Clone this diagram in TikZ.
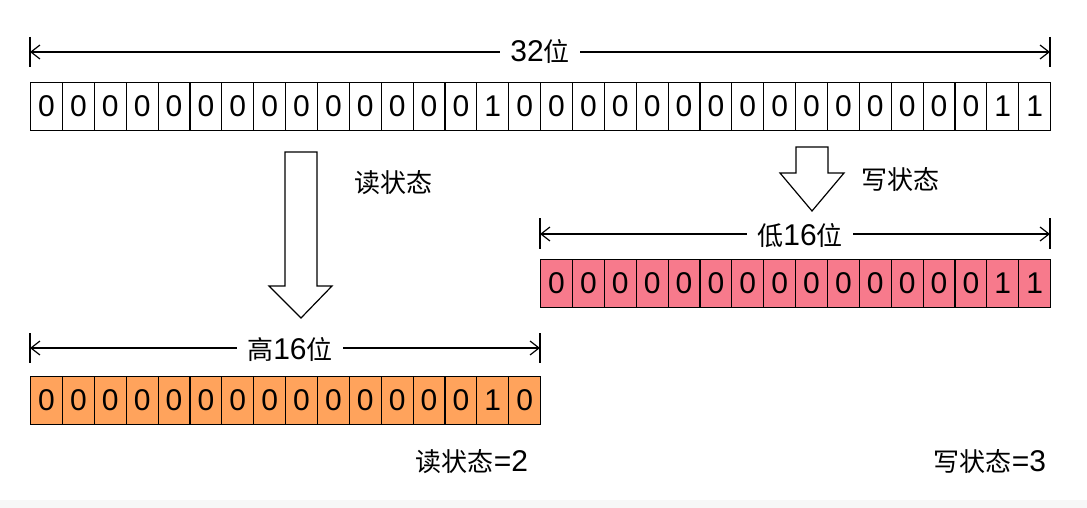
\documentclass[tikz,border=0pt]{standalone}
\usepackage{fontspec}
\setmainfont{Liberation Sans}
\newfontfamily\cjk{Noto Sans CJK SC}
\usetikzlibrary{arrows.meta}
\definecolor{redfill}{HTML}{F77A8C}
\definecolor{orangefill}{HTML}{FFA35C}
\begin{document}
\begin{tikzpicture}[x=1pt,y=-1pt,
  cell/.style={draw, line width=1.2pt, minimum width=31.875pt, minimum height=48pt,
    inner sep=0pt, anchor=north west, font=\fontsize{30}{36}\selectfont},
  tick/.style={line width=1.3pt},
  dimline/.style={line width=1.2pt, {Straight Barb[length=9pt,width=14pt]}-{Straight Barb[length=9pt,width=14pt]}},
  lbl/.style={fill=white, inner xsep=10pt, inner ysep=2pt, font=\fontsize{30}{36}\selectfont},
  txt/.style={inner sep=0pt, font=\fontsize{30}{36}\selectfont},
  blockarrow/.style={draw, line width=1.2pt, fill=white, line join=miter}]
\useasboundingbox (0,0) rectangle (1087,508);
\fill[black!3] (0,500) rectangle (1087,508);

% top dimension
\draw[tick] (30,37) -- (30,67);
\draw[tick] (1050,37) -- (1050,67);
\coordinate (tl) at (30,52);
\coordinate (tr) at (1050,52);
\draw[dimline] (tl) -- (tr);
\node[lbl] (l32) at (540,52) {32{\cjk\fontsize{26}{30}\selectfont 位}};

% top row
\foreach \d [count=\i from 0] in {0,0,0,0,0,0,0,0,0,0,0,0,0,0,1,0,0,0,0,0,0,0,0,0,0,0,0,0,0,0,1,1}
  \node[cell] (t\i) at ({30+\i*31.875},82) {\d};

% read arrow
\draw[blockarrow] (285,152) -- (317,152) -- (317,286) -- (332,286) -- (301,318) -- (269,286) -- (285,286) -- cycle;
\node[txt] (readlbl) at (393,183) {\cjk\fontsize{26}{30}\selectfont 读状态};

% write arrow
\draw[blockarrow] (796,147) -- (828,147) -- (828,173) -- (844,173) -- (812,211) -- (780,173) -- (796,173) -- cycle;
\node[txt] (writelbl) at (900,180) {\cjk\fontsize{26}{30}\selectfont 写状态};

% low 16 dimension
\draw[tick] (540,218) -- (540,249);
\draw[tick] (1050,218) -- (1050,249);
\coordinate (ll) at (540,234);
\coordinate (lr) at (1050,234);
\draw[dimline] (ll) -- (lr);
\node[lbl] (l16) at (800,236) {{\cjk\fontsize{26}{30}\selectfont 低}16{\cjk\fontsize{26}{30}\selectfont 位}};

% red row
\foreach \d [count=\i from 0] in {0,0,0,0,0,0,0,0,0,0,0,0,0,0,1,1}
  \node[cell, fill=redfill] (r\i) at ({540+\i*31.875},259) {\d};

% high 16 dimension
\draw[tick] (30,333) -- (30,363);
\draw[tick] (540,333) -- (540,363);
\coordinate (hl) at (30,348);
\coordinate (hr) at (540,348);
\draw[dimline] (hl) -- (hr);
\node[lbl] (h16) at (290,350) {{\cjk\fontsize{26}{30}\selectfont 高}16{\cjk\fontsize{26}{30}\selectfont 位}};

% orange row
\foreach \d [count=\i from 0] in {0,0,0,0,0,0,0,0,0,0,0,0,0,0,1,0}
  \node[cell, fill=orangefill] (o\i) at ({30+\i*31.875},376) {\d};

% results
\node[txt] (readres) at (472,462) {{\cjk\fontsize{26}{30}\selectfont 读状态}=2};
\node[txt] (writeres) at (990,462) {{\cjk\fontsize{26}{30}\selectfont 写状态}=3};
\end{tikzpicture}
\end{document}
